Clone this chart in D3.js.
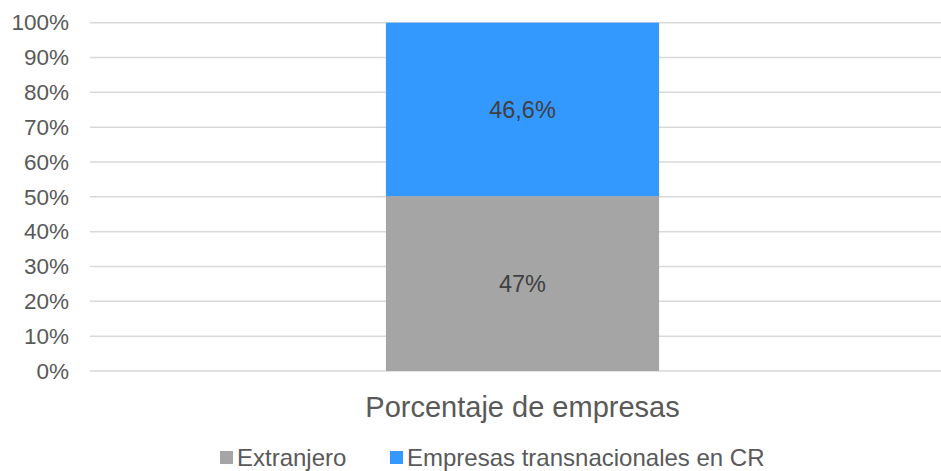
<!DOCTYPE html>
<html>
<head>
<meta charset="utf-8">
<script src="https://cdn.jsdelivr.net/npm/d3@7"></script>
<style>
  html, body { margin: 0; padding: 0; background: #fff; }
  svg { display: block; font-family: "Liberation Sans", Arial, Helvetica, sans-serif; }
</style>
</head>
<body>
<svg id="chart" width="941" height="471"></svg>
<script>
// Chart data
const categories = ["Porcentaje de empresas"];
const seriesNames = ["Extranjero", "Empresas transnacionales en CR"];
const seriesValues = [[47], [46.6]];
const seriesLabels = ["47%", "46,6%"];
const seriesColors = ["#a5a5a5", "#3399ff"];
const tickValues = [0, 0.1, 0.2, 0.3, 0.4, 0.5, 0.6, 0.7, 0.8, 0.9, 1];

const svg = d3.select("#chart");
const margin = { top: 22.7, left: 90, bottom: 371 };
const plotRight = 955;

// rows for the stack: one row per category
const rows = categories.map((c, i) => {
  const r = { category: c };
  seriesNames.forEach((s, j) => { r[s] = seriesValues[j][i]; });
  return r;
});
const stacked = d3.stack().keys(seriesNames).offset(d3.stackOffsetExpand)(rows);

const x = d3.scaleBand().domain(categories).range([margin.left, plotRight]).padding(0.52);
const y = d3.scaleLinear().domain([0, 1]).range([margin.bottom, margin.top]);

// gridlines
svg.append("g")
  .selectAll("line")
  .data(tickValues)
  .join("line")
  .attr("x1", margin.left).attr("x2", plotRight)
  .attr("y1", d => y(d)).attr("y2", d => y(d))
  .attr("stroke", "#d9d9d9").attr("stroke-width", 1.5);

// y axis labels
const yAxis = d3.axisLeft(y).tickValues(tickValues).tickFormat(d3.format(".0%")).tickSize(0).tickPadding(0);
const yg = svg.append("g").attr("transform", `translate(69,0)`).call(yAxis);
yg.select(".domain").remove();
yg.selectAll("text").attr("font-size", 22.5).attr("fill", "#595959")
  .attr("font-family", "Liberation Sans, Arial, sans-serif");

// bars
const layers = svg.append("g").selectAll("g")
  .data(stacked)
  .join("g")
  .attr("fill", (d, i) => seriesColors[i]);

layers.selectAll("rect")
  .data(d => d)
  .join("rect")
  .attr("x", d => x(d.data.category))
  .attr("width", x.bandwidth())
  .attr("y", d => y(d[1]))
  .attr("height", d => y(d[0]) - y(d[1]));

// data labels
stacked.forEach((layer, i) => {
  layer.forEach(d => {
    svg.append("text")
      .attr("x", x(d.data.category) + x.bandwidth() / 2)
      .attr("y", (y(d[0]) + y(d[1])) / 2)
      .attr("dy", "0.35em")
      .attr("text-anchor", "middle")
      .attr("font-size", 23.5)
      .attr("fill", "#404040")
      .text(seriesLabels[i]);
  });
});

// category axis label
const xAxis = d3.axisBottom(x).tickSize(0).tickPadding(0);
const xg = svg.append("g").attr("transform", `translate(0,${margin.bottom + 36})`).call(xAxis);
xg.select(".domain").remove();
xg.selectAll("text").attr("font-size", 29).attr("fill", "#595959")
  .attr("font-family", "Liberation Sans, Arial, sans-serif")
  .attr("dy", "0.35em");

// legend
const legendItems = [
  { name: seriesNames[0], color: seriesColors[0], x: 220 },
  { name: seriesNames[1], color: seriesColors[1], x: 390 }
];
const legendY = 457.5;
const lg = svg.append("g");
legendItems.forEach(it => {
  lg.append("rect")
    .attr("x", it.x).attr("y", legendY - 6.5)
    .attr("width", 13).attr("height", 13)
    .attr("fill", it.color);
  lg.append("text")
    .attr("x", it.x + 17).attr("y", legendY)
    .attr("dy", "0.35em")
    .attr("font-size", 24)
    .attr("fill", "#595959")
    .text(it.name);
});
</script>
</body>
</html>
